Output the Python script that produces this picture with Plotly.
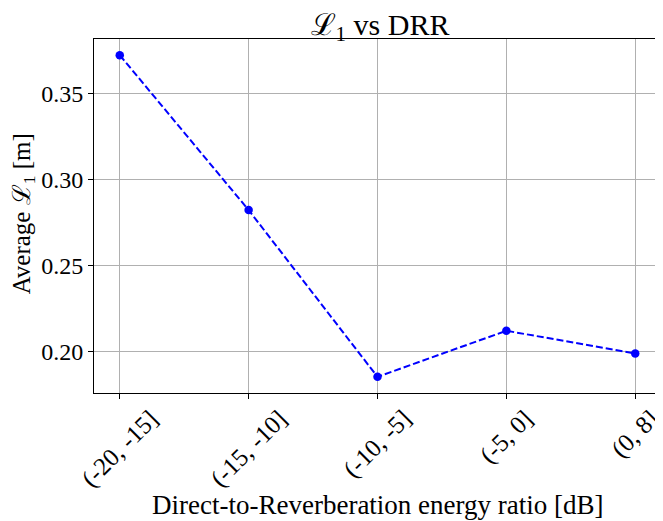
import plotly.graph_objects as go

categories = ["(-20, -15]", "(-15, -10]", "(-10, -5]", "(-5, 0]", "(0, 8]"]
avg_l1 = [0.3723, 0.2822, 0.1852, 0.2120, 0.1988]
y_ticks = [0.20, 0.25, 0.30, 0.35]
y_tick_labels = ["0.20", "0.25", "0.30", "0.35"]

FONT = "Liberation Serif"
x_idx = list(range(len(categories)))

fig = go.Figure()
fig.add_trace(go.Scatter(
    x=x_idx, y=avg_l1, mode="lines+markers",
    line=dict(color="#0000ff", width=2, dash="7px,3px"),
    marker=dict(color="#0000ff", size=8.5),
    showlegend=False,
))

annotations = []
for i, lab in enumerate(categories):
    annotations.append(dict(
        x=i, xref="x", y=-0.026, yref="paper",
        text=lab, showarrow=False, textangle=-45,
        xanchor="center", yanchor="top",
        font=dict(family=FONT, size=25, color="black"),
    ))
annotations.append(dict(
    x=0.5, xref="paper", y=-0.316, yref="paper",
    text="Direct-to-Reverberation energy ratio [dB]", showarrow=False,
    xanchor="center", yanchor="middle",
    font=dict(family=FONT, size=27, color="black"),
))
annotations.append(dict(
    x=-0.125, xref="paper", y=0.505, yref="paper",
    text="Average ℒ<sub>1</sub> [m]", showarrow=False, textangle=-90,
    xanchor="center", yanchor="middle",
    font=dict(family=FONT, size=25, color="black"),
))

# the page body adds an 8px offset, so the figure is 8px smaller
fig.update_layout(
    width=655, height=513,
    margin=dict(l=86, r=2, t=31, b=128),
    paper_bgcolor="white", plot_bgcolor="white",
    title=dict(text="ℒ<sub>1</sub> vs DRR", x=0.568, xanchor="center",
               y=0.968, yanchor="middle",
               font=dict(family=FONT, size=30, color="black")),
    annotations=annotations,
    font=dict(family=FONT, color="black"),
)
fig.update_xaxes(
    range=[-0.2, 4.2], tickvals=x_idx, showticklabels=False,
    showgrid=True, gridcolor="#b0b0b0", gridwidth=1,
    showline=True, linecolor="black", linewidth=1.1, mirror=True,
    ticks="outside", ticklen=5, tickcolor="black", tickwidth=1,
    zeroline=False, automargin=False,
)
fig.update_yaxes(
    range=[0.1758, 0.3817], tickvals=y_ticks, ticktext=y_tick_labels,
    showgrid=True, gridcolor="#b0b0b0", gridwidth=1,
    showline=True, linecolor="black", linewidth=1.1, mirror=True,
    ticks="outside", ticklen=5, tickcolor="black", tickwidth=1,
    zeroline=False, automargin=False,
    tickfont=dict(family=FONT, size=24, color="black"),
)
fig.write_html("out.html")
